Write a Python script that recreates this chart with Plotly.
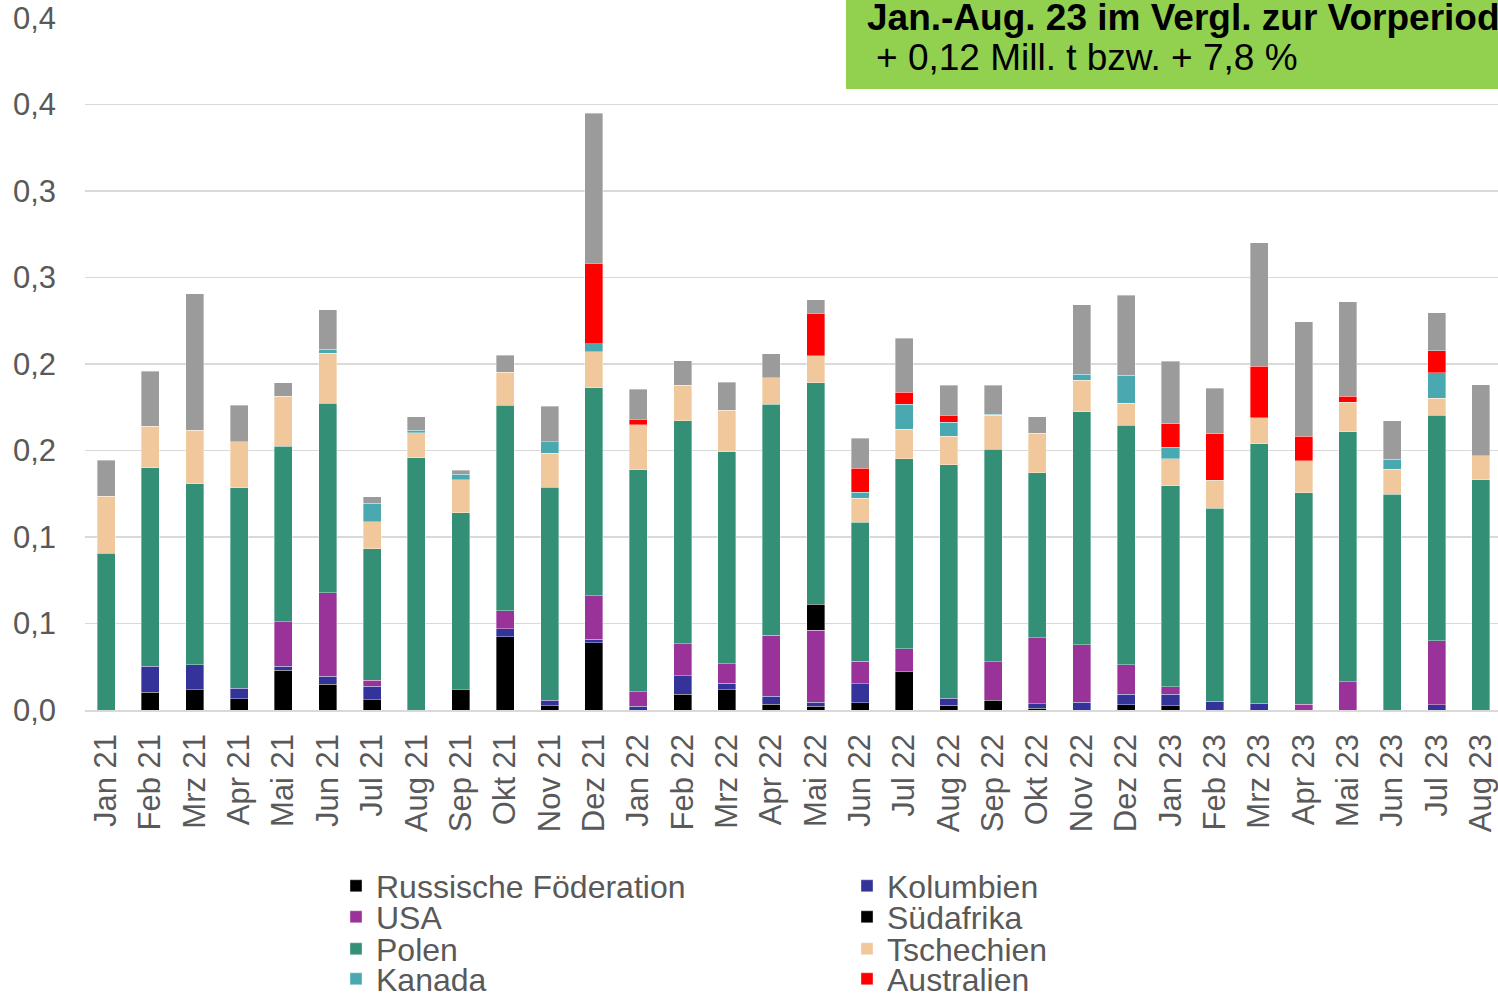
import plotly.graph_objects as go

months = ["Jan 21", "Feb 21", "Mrz 21", "Apr 21", "Mai 21", "Jun 21", "Jul 21", "Aug 21",
          "Sep 21", "Okt 21", "Nov 21", "Dez 21", "Jan 22", "Feb 22", "Mrz 22", "Apr 22",
          "Mai 22", "Jun 22", "Jul 22", "Aug 22", "Sep 22", "Okt 22", "Nov 22", "Dez 22",
          "Jan 23", "Feb 23", "Mrz 23", "Apr 23", "Mai 23", "Jun 23", "Jul 23", "Aug 23"]

russland = [0, 0.0103, 0.0117, 0.0066, 0.0229, 0.0149, 0.0060, 0, 0.0119, 0.0422, 0.0025, 0.0390,
            0, 0.0092, 0.0117, 0.0034, 0.0021, 0.0041, 0.0220, 0.0028, 0.0057, 0.0010, 0, 0.0030,
            0.0025, 0, 0, 0, 0, 0, 0, 0]
kolumbien = [0, 0.0151, 0.0144, 0.0060, 0.0025, 0.0046, 0.0078, 0, 0, 0.0048, 0.0032, 0.0020,
             0.0023, 0.0107, 0.0037, 0.0046, 0.0025, 0.0110, 0, 0.0041, 0, 0.0026, 0.0046, 0.0062,
             0.0067, 0.0050, 0.0039, 0, 0, 0, 0.0030, 0]
usa = [0, 0, 0, 0, 0.0255, 0.0483, 0.0034, 0, 0, 0.0103, 0, 0.0250,
       0.0082, 0.0184, 0.0114, 0.0353, 0.0415, 0.0131, 0.0133, 0, 0.0223, 0.0382, 0.0330, 0.0169,
       0.0041, 0, 0, 0.0032, 0.0163, 0, 0.0369, 0]
suedafrika = [0, 0, 0, 0, 0, 0, 0, 0, 0, 0, 0, 0,
              0, 0, 0, 0, 0.0149, 0, 0, 0, 0, 0, 0, 0,
              0, 0, 0, 0, 0, 0, 0, 0]
polen = [0.0905, 0.1146, 0.1048, 0.1158, 0.1017, 0.1094, 0.0761, 0.1458, 0.1020, 0.1190, 0.1231, 0.1203,
         0.1284, 0.1290, 0.1226, 0.1334, 0.1281, 0.0802, 0.1100, 0.1350, 0.1226, 0.0952, 0.1348, 0.1385,
         0.1164, 0.1117, 0.1499, 0.1224, 0.1444, 0.1247, 0.1304, 0.1332]
tschechien = [0.0332, 0.0239, 0.0309, 0.0266, 0.0289, 0.0291, 0.0156, 0.0146, 0.0193, 0.0188, 0.0197, 0.0209,
              0.0259, 0.0204, 0.0239, 0.0154, 0.0158, 0.0140, 0.0170, 0.0162, 0.0197, 0.0229, 0.0181, 0.0128,
              0.0154, 0.0162, 0.0151, 0.0186, 0.0172, 0.0144, 0.0099, 0.0139]
kanada = [0, 0, 0, 0, 0, 0.0023, 0.0105, 0.0012, 0.0030, 0, 0.0067, 0.0046,
          0, 0, 0, 0, 0, 0.0034, 0.0144, 0.0083, 0.0007, 0, 0.0036, 0.0160,
          0.0069, 0, 0, 0, 0, 0.0058, 0.0148, 0]
australien = [0, 0, 0, 0, 0, 0, 0, 0, 0, 0, 0, 0.0465,
              0.0032, 0, 0, 0, 0.0245, 0.0138, 0.0069, 0.0039, 0, 0, 0, 0,
              0.0135, 0.0269, 0.0298, 0.0139, 0.0034, 0, 0.0127, 0]
sonstige = [0.0206, 0.0320, 0.0789, 0.0213, 0.0076, 0.0227, 0.0039, 0.0078, 0.0023, 0.0099, 0.0204, 0.0867,
            0.0174, 0.0142, 0.0162, 0.0137, 0.0076, 0.0174, 0.0314, 0.0174, 0.0167, 0.0096, 0.0401, 0.0463,
            0.0360, 0.0263, 0.0713, 0.0663, 0.0548, 0.0222, 0.0220, 0.0408]

y_tickvals = [0, 0.05, 0.10, 0.15, 0.20, 0.25, 0.30, 0.35, 0.40]
y_ticktext = ["0,0", "0,1", "0,1", "0,2", "0,2", "0,3", "0,3", "0,4", "0,4"]

box_line1 = "Jan.-Aug. 23 im Vergl. zur Vorperiode"
box_line2 = "+ 0,12 Mill. t bzw. + 7,8 %"

series = [
    ("Russische Föderation", russland, "#000000", "legend", True),
    ("Kolumbien", kolumbien, "#333399", "legend", True),
    ("USA", usa, "#993399", "legend2", True),
    ("Südafrika", suedafrika, "#000000", "legend2", True),
    ("Polen", polen, "#339077", "legend3", True),
    ("Tschechien", tschechien, "#F1C89C", "legend3", True),
    ("Kanada", kanada, "#4AA8B0", "legend4", True),
    ("Australien", australien, "#FF0000", "legend4", True),
    ("Sonstige", sonstige, "#9B9B9B", "legend", False),
]

FONT = "Liberation Sans, Arial, sans-serif"
GREY_TXT = "#595959"

fig = go.Figure()
for name, vals, color, leg, show in series:
    fig.add_trace(go.Bar(
        x=months,
        y=[v if v else None for v in vals],
        name=name,
        marker=dict(color=color, line=dict(color="rgba(255,255,255,0.45)", width=0.8)),
        legend=leg,
        showlegend=show,
    ))

W, H = 1498, 995
ML, MR, MT, MB = 85, 0, 18, 285
pw, ph = W - ML - MR, H - MT - MB


def px_x(x):
    return (x - ML) / pw


def px_y(y):
    return (H - MB - y) / ph


leg_common = dict(orientation="h", xref="container", yref="container",
                  x=336 / W, xanchor="left", yanchor="middle",
                  entrywidth=466, entrywidthmode="pixels", traceorder="normal",
                  font=dict(family=FONT, size=32, color=GREY_TXT),
                  bgcolor="rgba(0,0,0,0)", itemclick=False)

fig.update_layout(
    width=W, height=H, autosize=False,
    margin=dict(l=ML, r=MR, t=MT, b=MB, pad=0, autoexpand=False),
    paper_bgcolor="white", plot_bgcolor="white",
    barmode="stack", bargap=0.594,
    font=dict(family=FONT, color=GREY_TXT),
    legend=dict(y=1 - 886 / H, **leg_common),
    legend2=dict(y=1 - 917 / H, **leg_common),
    legend3=dict(y=1 - 949 / H, **leg_common),
    legend4=dict(y=1 - 979 / H, **leg_common),
    xaxis=dict(type="category", range=[-0.4735, 31.384], tickangle=-90,
               tickfont=dict(family=FONT, size=31, color=GREY_TXT),
               showline=True, linecolor="#D9D9D9", linewidth=1.5,
               showgrid=False, ticks="", ticklabelstandoff=10, automargin=False),
    yaxis=dict(range=[0, 0.4], tickvals=y_tickvals, ticktext=y_ticktext,
               tickfont=dict(family=FONT, size=31, color=GREY_TXT),
               showgrid=True, gridcolor="#D9D9D9", gridwidth=1.5,
               zeroline=False, showline=False, ticks="", ticklabelstandoff=28,
               automargin=False),
    shapes=[dict(type="rect", xref="paper", yref="paper",
                 x0=px_x(846), x1=1.02, y0=px_y(89), y1=px_y(-10),
                 fillcolor="#92D050", line=dict(width=0), layer="above")],
    annotations=[
        dict(text="<b>" + box_line1 + "</b>", xref="paper", yref="paper",
             x=px_x(865), y=px_y(17), xanchor="left", yanchor="middle", showarrow=False,
             font=dict(family=FONT, size=37, color="#000000")),
        dict(text=box_line2, xref="paper", yref="paper",
             x=px_x(874), y=px_y(57), xanchor="left", yanchor="middle", showarrow=False,
             font=dict(family=FONT, size=37, color="#000000")),
    ],
)

fig.write_html(
    "out.html",
    config={"displayModeBar": False, "staticPlot": True},
    post_script="document.body.style.margin='0';document.body.style.overflow='hidden';",
)
